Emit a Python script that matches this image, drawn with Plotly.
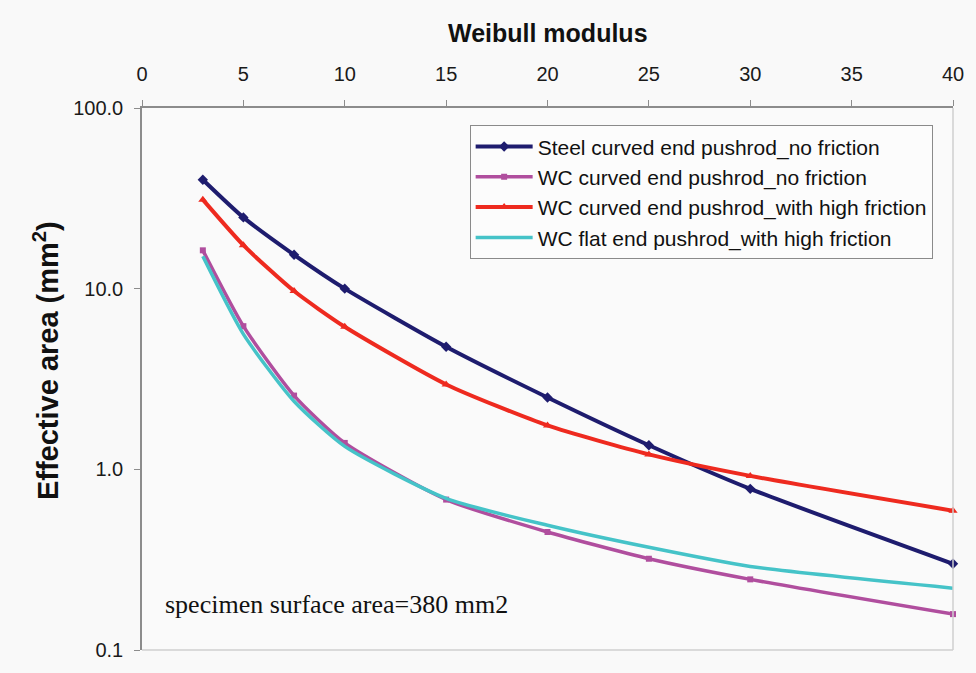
import plotly.graph_objects as go

# Weibull modulus values at which effective area was evaluated
weibull_m = [3, 5, 7.5, 10, 15, 20, 25, 30, 40]

# Effective area (mm^2) for each pushrod configuration
steel_curved_nofric = [40.1, 24.8, 15.4, 10.0, 4.77, 2.50, 1.36, 0.78, 0.30]
wc_curved_nofric = [16.3, 6.2, 2.56, 1.40, 0.68, 0.45, 0.32, 0.246, 0.158]
wc_curved_highfric = [31.1, 17.4, 9.7, 6.15, 2.95, 1.75, 1.21, 0.92, 0.59]
wc_flat_highfric = [15.1, 5.6, 2.38, 1.34, 0.69, 0.49, 0.37, 0.29, 0.22]

series_names = [
    "Steel curved end pushrod_no friction",
    "WC curved end pushrod_no friction",
    "WC curved end pushrod_with high friction",
    "WC flat end pushrod_with high friction",
]

y_ticks = [0.1, 1, 10, 100]
y_tick_text = ["0.1", "1.0", "10.0", "100.0"]
x_ticks = [0, 5, 10, 15, 20, 25, 30, 35, 40]

styles = [
    dict(color="#1E1C6E", width=4, symbol="diamond", size=8, mode="lines+markers"),
    dict(color="#B04E9E", width=3.5, symbol="square", size=6, mode="lines+markers"),
    dict(color="#EE2A1F", width=4, symbol="triangle-up", size=8, mode="lines+markers"),
    dict(color="#45C3C8", width=3.5, symbol="circle", size=1, mode="lines"),
]

fig = go.Figure()
for name, ys, st in zip(series_names,
                        [steel_curved_nofric, wc_curved_nofric, wc_curved_highfric, wc_flat_highfric],
                        styles):
    fig.add_trace(go.Scatter(
        x=weibull_m, y=ys, name=name, mode=st["mode"],
        line=dict(color=st["color"], width=st["width"], shape="spline", smoothing=0.6),
        marker=dict(symbol=st["symbol"], size=st["size"], color=st["color"]),
        cliponaxis=False,
    ))

sans = "Liberation Sans, Arial, sans-serif"
axis_font = dict(family=sans, size=20, color="#1A1A1A")

fig.update_layout(
    width=976, height=673,
    margin=dict(l=142, r=17, t=108, b=20),
    paper_bgcolor="#F9F9F9",
    plot_bgcolor="#FAFAFA",
    showlegend=True,
    legend=dict(
        x=0.404, y=0.968, xanchor="left", yanchor="top",
        bgcolor="#FCFCFC", bordercolor="#8A8A8A", borderwidth=1,
        font=dict(family=sans, size=21, color="#111111"),
        itemwidth=57, tracegroupgap=0,
    ),
    xaxis=dict(
        side="top", range=[0, 40], tickvals=x_ticks, showgrid=False, zeroline=False,
        showline=True, linecolor="#8C8C8C", linewidth=1.5,
        ticks="outside", ticklen=6, tickcolor="#8C8C8C",
        tickfont=axis_font, ticklabelstandoff=11,
    ),
    yaxis=dict(
        type="log", range=[-1, 2], tickvals=y_ticks, ticktext=y_tick_text,
        showgrid=False, zeroline=False,
        showline=True, linecolor="#8C8C8C", linewidth=1.5,
        ticks="outside", ticklen=6, tickcolor="#8C8C8C",
        tickfont=axis_font, ticklabelstandoff=7,
    ),
    shapes=[
        dict(type="line", xref="paper", yref="paper", x0=1, x1=1, y0=0, y1=1,
             line=dict(color="#CFCFCF", width=1.5)),
        dict(type="line", xref="paper", yref="paper", x0=0, x1=1, y0=0, y1=0,
             line=dict(color="#CFCFCF", width=1.5)),
    ],
    annotations=[
        dict(text="<b>Weibull modulus</b>", xref="paper", yref="paper",
             x=0.5, y=1.138, xanchor="center", yanchor="middle", showarrow=False,
             font=dict(family=sans, size=25, color="#111111")),
        dict(text="<b>Effective area (mm<sup>2</sup>)</b>", xref="paper", yref="paper",
             x=-0.119, y=0.534, xanchor="center", yanchor="middle", textangle=-90,
             showarrow=False,
             font=dict(family=sans, size=29, color="#111111")),
        dict(text="specimen surface area=380 mm2", xref="paper", yref="paper",
             x=0.026, y=0.084, xanchor="left", yanchor="middle", showarrow=False,
             font=dict(family="Liberation Serif, Times New Roman, serif", size=26, color="#111111")),
    ],
)

fig.write_html("out.html")
